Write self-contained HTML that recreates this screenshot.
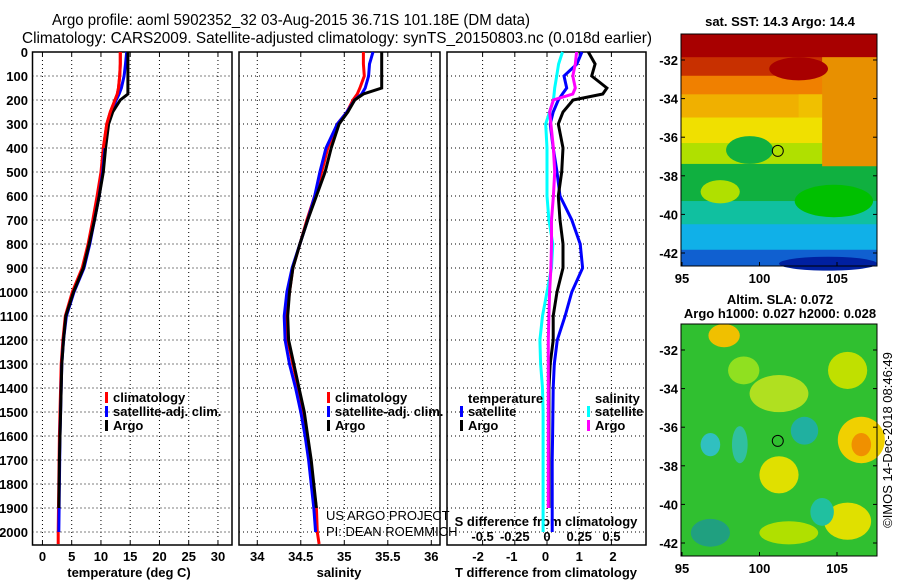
<!DOCTYPE html>
<html><head><meta charset="utf-8"><style>
html,body{margin:0;padding:0;background:#fff;}
svg{display:block;font-family:"Liberation Sans",sans-serif;}
.b{font-weight:bold;font-size:13px;}
</style></head><body>
<svg id="fig" width="900" height="580" viewBox="0 0 900 580" xmlns="http://www.w3.org/2000/svg">
<text x="52" y="25" font-size="16" textLength="478" lengthAdjust="spacingAndGlyphs">Argo profile: aoml 5902352_32 03-Aug-2015 36.71S 101.18E (DM data)</text>
<text x="22" y="43" font-size="16" textLength="630" lengthAdjust="spacingAndGlyphs">Climatology: CARS2009. Satellite-adjusted climatology: synTS_20150803.nc (0.018d earlier)</text>
<g id="charts"></g>
<g id="maps"></g>
<text transform="translate(892,440) rotate(-90)" text-anchor="middle" font-size="13">©IMOS 14-Dec-2018 08:46:49</text>
</svg>
<script>
const NS='http://www.w3.org/2000/svg';
const depths=[0,50,100,150,175,200,250,300,400,500,600,700,800,900,1000,1100,1200,1300,1400,1500,1600,1700,1800,1900,2000,2050];
const tempClim=[13.3,13.3,13.2,13.0,12.8,12.4,11.6,11.0,10.4,10.0,9.35,8.6,7.8,6.8,5.1,3.9,3.5,3.2,3.1,3.0,2.9,2.85,2.8,2.75,2.7,2.7];
const tempSat=[14.4,14.2,13.95,13.5,13.1,12.6,11.8,11.2,10.7,10.3,9.7,8.9,8.1,7.1,5.4,4.1,3.6,3.3,3.2,3.1,3.0,2.95,2.9,2.85,2.8,null];
const tempArgo=[14.6,14.6,14.6,14.6,14.6,13.3,12.0,11.3,10.8,10.4,9.7,8.9,8.0,7.0,5.3,4.0,3.6,3.3,3.2,3.1,3.0,2.9,2.85,2.8,null,null];
const salClim=[35.22,35.22,35.23,35.18,35.15,35.10,35.03,34.92,34.81,34.74,34.66,34.57,34.49,34.41,34.37,34.34,34.35,34.41,34.47,34.53,34.57,34.61,34.64,34.68,34.69,34.71];
const salSat=[35.33,35.29,35.28,35.24,35.20,35.12,35.03,34.92,34.79,34.72,34.66,34.58,34.49,34.40,34.34,34.31,34.32,34.37,34.44,34.50,34.55,34.59,34.62,34.65,34.67,null];
const salArgo=[35.43,35.43,35.43,35.43,35.22,35.12,35.04,34.94,34.85,34.78,34.68,34.58,34.49,34.41,34.37,34.35,34.36,34.42,34.48,34.54,34.58,34.62,34.65,34.68,null,null];
const tDiffSat=[1.08,0.93,0.55,0.63,0.5,0.38,0.23,0.14,0.23,0.34,0.43,0.78,1.03,1.1,0.78,0.58,0.35,0.26,0.23,0.22,0.21,0.2,0.2,0.2,0.2,null];
const tDiffArgo=[1.27,1.47,1.37,1.82,1.7,0.82,0.52,0.38,0.52,0.48,0.38,0.43,0.52,0.52,0.34,0.23,0.23,0.14,0.1,0.1,0.1,0.1,0.1,0.1,null,null];
const sDiffSat=[0.12,0.09,0.075,0.06,0.055,0.05,0.02,-0.01,0,0,0,0.015,0.045,0.035,0,-0.035,-0.055,-0.05,-0.035,-0.03,-0.03,-0.03,-0.03,-0.03,-0.03,null];
const sDiffArgo=[0.23,0.22,0.2,0.22,0.2,0.05,0.02,0.03,0.05,0.06,0.05,0.035,0.035,0.03,0.02,0.015,0.01,0.01,0.01,0.01,0.01,0.01,0.01,0.01,null,null];
const depthTicks=[0,100,200,300,400,500,600,700,800,900,1000,1100,1200,1300,1400,1500,1600,1700,1800,1900,2000];
const tempTicks=[0,5,10,15,20,25,30];
const salTicks=[34,34.5,35,35.5,36];
const tDiffTicks=[-2,-1,0,1,2];
const sDiffTicks=[-0.5,-0.25,0,0.25,0.5];
const sDiffTickLabels=['-0.5','-0.25','0','0.25','0.5'];
const latTicks=[-32,-34,-36,-38,-40,-42];
const lonTicks=[95,100,105];

const charts=document.getElementById('charts');
function mk(tag,attrs,parent){const e=document.createElementNS(NS,tag);for(const k in attrs)e.setAttribute(k,attrs[k]);(parent||charts).appendChild(e);return e;}
const yTop=52,yBot=545;
const yD=d=>yTop+d*0.24;

function panel(name,x0,x1,vmin,vmax){
  const g=mk('g',{});
  
  
  const sx=v=>x0+(v-vmin)/(vmax-vmin)*(x1-x0);
  return {g,sx,x0,x1};
}
function frame(p,vticks){
  depthTicks.forEach(d=>{const l=mk('line',{x1:p.x0,x2:p.x1,y1:yD(d),y2:yD(d),stroke:'#000','stroke-dasharray':'1,3','stroke-width':1},p.g);
    });
  vticks.forEach(x=>{const l=mk('line',{x1:x,x2:x,y1:yTop,y2:yBot,stroke:'#000','stroke-dasharray':'1,3','stroke-width':1},p.g);
    
    mk('line',{x1:x,x2:x,y1:yBot,y2:yBot-4,stroke:'#000'},p.g);mk('line',{x1:x,x2:x,y1:yTop,y2:yTop+4,stroke:'#000'},p.g);});
  const r=mk('rect',{x:p.x0,y:yTop,width:p.x1-p.x0,height:yBot-yTop,fill:'none',stroke:'#000','stroke-width':1.5},p.g);
  
}
function series(p,vals,color,name,sx){
  const pts=[];vals.forEach((v,i)=>{if(v!==null)pts.push((sx||p.sx)(v).toFixed(1)+','+yD(depths[i]).toFixed(1));});
  const l=mk('polyline',{points:pts.join(' '),fill:'none',stroke:color,'stroke-width':3,'stroke-linejoin':'miter'},p.g);
  
}
function txt(s,x,y,attrs,parent,name){const t=mk('text',Object.assign({x:x,y:y},attrs),parent);t.textContent=s;
  return t;}
function legend(p,items,x,y){
  items.forEach((it,i)=>{mk('rect',{x:x,y:y+i*14-6,width:3,height:11,fill:it[1]},p.g);
    txt(it[0],x+8,y+i*14+4,{class:'b'},p.g,'legend-entry');});
}

const p1=panel('temperature-panel',32.5,232,-1.7,32.4);
frame(p1,tempTicks.map(p1.sx));
depthTicks.forEach(d=>txt(String(d),28,yD(d)+5,{class:'b','text-anchor':'end'},p1.g,'depth-tick-label'));
tempTicks.forEach(v=>txt(String(v),p1.sx(v),561,{class:'b','text-anchor':'middle'},p1.g,'temp-tick-label'));
txt('temperature (deg C)',129,577,{class:'b','text-anchor':'middle'},p1.g,'x-axis-title-temperature');
series(p1,tempClim,'#f00','temp-climatology-line');
series(p1,tempSat,'#00f','temp-satellite-line');
series(p1,tempArgo,'#000','temp-argo-line');
series(p1,tempClim.map((v,i)=>i<9?v:null),'#f00','temp-climatology-top');
legend(p1,[['climatology','#f00'],['satellite-adj. clim.','#00f'],['Argo','#000']],105,398);

const p2=panel('salinity-panel',239,440,33.79,36.1);
frame(p2,salTicks.map(p2.sx));
salTicks.forEach(v=>txt(String(v),p2.sx(v),561,{class:'b','text-anchor':'middle'},p2.g,'sal-tick-label'));
txt('salinity',339,577,{class:'b','text-anchor':'middle'},p2.g,'x-axis-title-salinity');
series(p2,salClim,'#f00','sal-climatology-line');
series(p2,salSat,'#00f','sal-satellite-line');
series(p2,salArgo,'#000','sal-argo-line');
legend(p2,[['climatology','#f00'],['satellite-adj. clim.','#00f'],['Argo','#000']],327,398);
txt('US ARGO PROJECT',326,520,{'font-size':13},p2.g,'project-credit');
txt('PI: DEAN ROEMMICH',326,536,{'font-size':13},p2.g,'pi-credit');

const p3=panel('difference-panel',447,646,-2.92,2.98);
const sxS=v=>547+v*128.8;
frame(p3,sDiffTicks.map(sxS));
tDiffTicks.forEach(v=>txt(String(v),p3.sx(v),561,{class:'b','text-anchor':'middle'},p3.g,'tdiff-tick-label'));
txt('T difference from climatology',546,577,{class:'b','text-anchor':'middle'},p3.g,'x-axis-title-tdiff');
sDiffTicks.forEach((v,i)=>txt(sDiffTickLabels[i],sxS(v),541,{class:'b','text-anchor':'middle'},p3.g,'sdiff-tick-label'));
txt('S difference from climatology',546,526,{class:'b','text-anchor':'middle'},p3.g,'sdiff-axis-title');
series(p3,tDiffSat,'#00f','tdiff-satellite-line');
series(p3,tDiffArgo,'#000','tdiff-argo-line');
series(p3,sDiffSat,'#0ff','sdiff-satellite-line',sxS);
series(p3,sDiffArgo,'#f0f','sdiff-argo-line',sxS);
txt('temperature',468,403,{class:'b'},p3.g,'legend-title-temperature');
legend(p3,[['satellite','#00f'],['Argo','#000']],460,412);
txt('salinity',595,403,{class:'b'},p3.g,'legend-title-salinity');
legend(p3,[['satellite','#0ff'],['Argo','#f0f']],587,412);

const maps=document.getElementById('maps');
function mapPanel(name,top,bands,blobs,rects,title1,title2){
  const g=mk('g',{},maps);
  const x0=681,x1=877,y0=top,y1=top+232;
  const lonX=v=>682+(v-95)*15.5, latY=v=>top+26+(-32-v)*19.3;
  bands.forEach(b=>mk('rect',{x:x0,y:y0+b[0]*232,width:x1-x0,height:(b[1]-b[0])*232+0.5,fill:b[2]},g));
  rects.forEach(b=>mk('rect',{x:x0+b[0]*196,y:y0+b[1]*232,width:b[2]*196,height:b[3]*232,fill:b[4]},g));
  blobs.forEach(b=>mk('ellipse',{cx:x0+b[0]*196,cy:y0+b[1]*232,rx:b[2]*196,ry:b[3]*232,fill:b[4]},g));
  const c=mk('circle',{cx:lonX(101.18),cy:latY(-36.71),r:5.5,fill:'none',stroke:'#000','stroke-width':1},g);
  
  mk('rect',{x:x0,y:y0,width:x1-x0,height:y1-y0,fill:'none',stroke:'#000','stroke-width':1},g);
  latTicks.forEach(v=>{txt(String(v),678,latY(v)+5,{class:'b','text-anchor':'end'},g,'lat-tick-label');
    mk('line',{x1:x0,x2:x0+4,y1:latY(v),y2:latY(v),stroke:'#000'},g);mk('line',{x1:x1,x2:x1-4,y1:latY(v),y2:latY(v),stroke:'#000'},g);});
  lonTicks.forEach(v=>{txt(String(v),lonX(v),y1+17,{class:'b','text-anchor':'middle'},g,'lon-tick-label');
    mk('line',{x1:lonX(v),x2:lonX(v),y1:y1,y2:y1-4,stroke:'#000'},g);});
  txt(title1,780,top-(title2?20:8),{class:'b','text-anchor':'middle'},g,'map-title');
  if(title2)txt(title2,780,top-6,{class:'b','text-anchor':'middle'},g,'map-subtitle');
}
mapPanel('sst-map',34,
 [[0,0.1,'#a80000'],[0.1,0.18,'#c83000'],[0.18,0.26,'#f08000'],[0.26,0.36,'#f0b000'],[0.36,0.47,'#f0e000'],[0.47,0.56,'#b0e000'],[0.56,0.72,'#10b040'],[0.72,0.82,'#10c0a0'],[0.82,0.93,'#10b0e8'],[0.93,1,'#1060d0']],
 [[0.35,0.5,0.12,0.06,'#10b040'],[0.2,0.68,0.1,0.05,'#b0e000'],[0.75,0.99,0.25,0.03,'#0020a0'],[0.78,0.72,0.2,0.07,'#00c000'],[0.6,0.15,0.15,0.05,'#a80000']],
 [[0.72,0.1,0.28,0.47,'#e89000'],[0.6,0.26,0.12,0.1,'#f0c000']],
 'sat. SST: 14.3 Argo: 14.4',null);
mapPanel('sla-map',324,
 [[0,1,'#30c030']],
 [[0.22,0.05,0.08,0.05,'#f0c000'],[0.5,0.3,0.15,0.08,'#b0e020'],[0.92,0.5,0.12,0.1,'#f0d000'],[0.92,0.52,0.05,0.05,'#f09000'],[0.5,0.65,0.1,0.08,'#e0e000'],[0.85,0.85,0.12,0.08,'#e0e000'],[0.15,0.52,0.05,0.05,'#30c0c0'],[0.3,0.52,0.04,0.08,'#30c0a0'],[0.63,0.46,0.07,0.06,'#20b0a0'],[0.72,0.81,0.06,0.06,'#20c0a0'],[0.32,0.2,0.08,0.06,'#90e020'],[0.85,0.2,0.1,0.08,'#c0e000'],[0.15,0.9,0.1,0.06,'#20a080'],[0.55,0.9,0.15,0.05,'#b0e000']],
 [],
 'Altim. SLA: 0.072','Argo h1000: 0.027 h2000: 0.028');
</script>
</body></html>
